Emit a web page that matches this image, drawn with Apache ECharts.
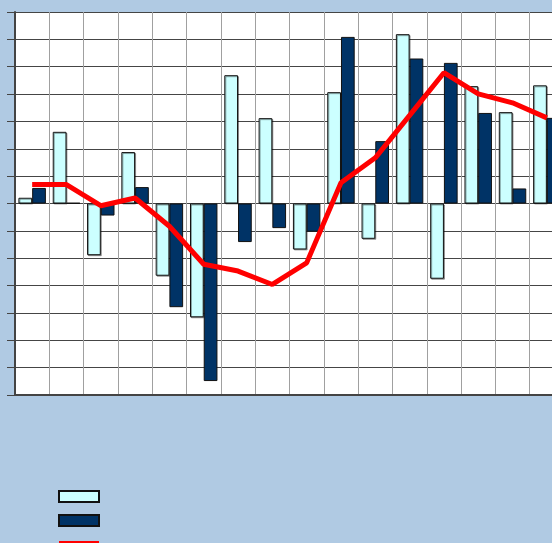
<!DOCTYPE html>
<html>
<head>
<meta charset="utf-8">
<script src="https://cdn.jsdelivr.net/npm/echarts@6/dist/echarts.min.js"></script>
<style>
  html, body { margin: 0; padding: 0; background: #b0cae3; overflow: hidden; }
  #chart { width: 570px; height: 560px; }
</style>
</head>
<body>
<div id="chart"></div>
<script>
// Sixteen periods, two bar series and one trend line (values in grid units)
const categories = ['1', '2', '3', '4', '5', '6', '7', '8', '9', '10', '11', '12', '13', '14', '15', '16'];
const seriesA = [0.21, 2.62, -1.89, 1.88, -2.64, -4.16, 4.69, 3.12, -1.68, 4.07, -1.29, 6.19, -2.75, 4.29, 3.34, 4.32];
const seriesB = [0.57, 0.02, -0.44, 0.60, -3.79, -6.49, -1.41, -0.90, -1.03, 6.09, 2.28, 5.30, 5.14, 3.31, 0.55, 3.13];
const trend   = [0.69, 0.69, -0.08, 0.20, -0.83, -2.22, -2.47, -2.96, -2.17, 0.76, 1.67, 3.22, 4.78, 4.01, 3.68, 3.13];
const yTicks = { min: -7, max: 7, step: 1 };

const chart = echarts.init(document.getElementById('chart'), null, { renderer: 'canvas' });

chart.setOption({
  backgroundColor: '#b0cae3',
  animation: false,
  grid: {
    left: 15, top: 12, width: 549, height: 383,
    show: true, backgroundColor: '#ffffff', borderWidth: 0
  },
  legend: {
    orient: 'vertical', left: 58, top: 490, padding: 0,
    itemWidth: 40, itemHeight: 11, itemGap: 11,
    formatter: () => '',
    data: [
      { name: 'A', icon: 'rect' },
      { name: 'B', icon: 'rect' },
      { name: 'C', icon: 'path://M0,0H40V5H0Z', itemStyle: { color: '#ff0000', borderWidth: 0 } }
    ]
  },
  xAxis: {
    type: 'category', data: categories, boundaryGap: true,
    axisLine: { onZero: false, lineStyle: { color: '#444', width: 2 } },
    axisTick: { show: false }, axisLabel: { show: false },
    splitLine: { show: true, interval: 0, lineStyle: { color: '#a0a0a0', width: 1 } }
  },
  yAxis: {
    type: 'value', min: yTicks.min, max: yTicks.max, interval: yTicks.step,
    axisLine: { show: true, lineStyle: { color: '#444', width: 2 } },
    axisTick: { show: true, inside: false, length: 8, lineStyle: { color: '#444', width: 1 } },
    axisLabel: { show: false },
    splitLine: { show: true, lineStyle: { color: '#454545', width: 1 } }
  },
  series: [
    {
      name: 'A', type: 'bar', data: seriesA, barGap: '0%', barCategoryGap: '20%',
      itemStyle: { color: '#ccffff', borderColor: '#111', borderWidth: 1,
        shadowColor: 'rgba(0,0,0,0.35)', shadowOffsetX: 1, shadowOffsetY: 1 }
    },
    {
      name: 'B', type: 'bar', data: seriesB,
      itemStyle: { color: '#003366', borderColor: '#111', borderWidth: 1 }
    },
    {
      name: 'C', type: 'line', data: trend, symbol: 'none', z: 5,
      lineStyle: { color: '#ff0000', width: 5 }, itemStyle: { color: '#ff0000' }
    }
  ]
});
</script>
</body>
</html>
